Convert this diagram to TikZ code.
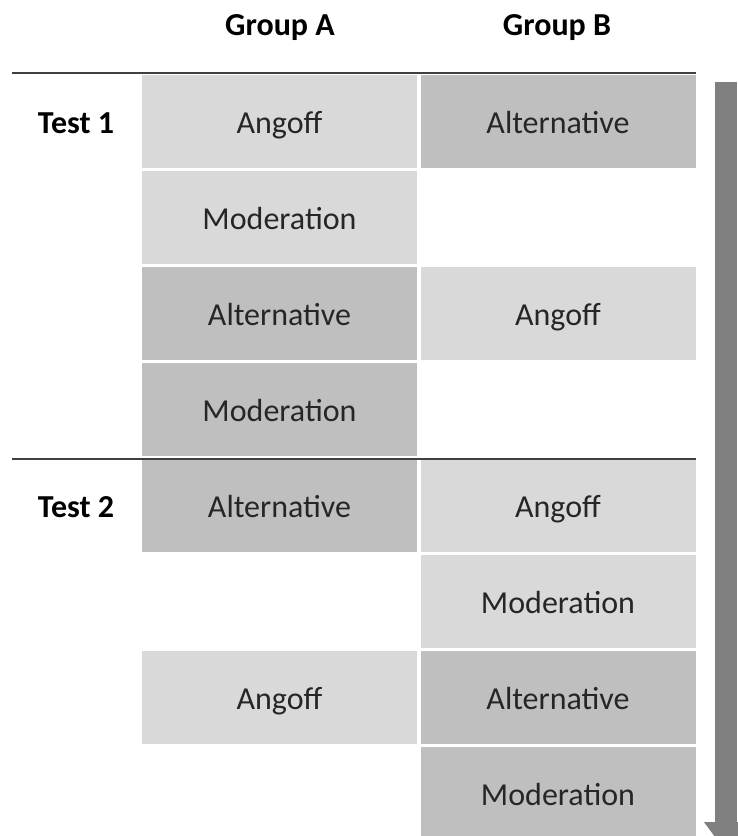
\documentclass[tikz,border=0pt]{standalone}
\usepackage{fontspec}
\setmainfont{Carlito}
\usetikzlibrary{arrows.meta}
\definecolor{cellLight}{HTML}{D9D9D9}
\definecolor{cellDark}{HTML}{BFBFBF}
\definecolor{arrowGray}{HTML}{808080}
\definecolor{textGray}{HTML}{262626}

\begin{document}
\begin{tikzpicture}[x=1pt, y=-1pt,
    cell/.style={minimum width=275pt, minimum height=93pt, inner sep=0pt,
        text height=23pt, text depth=0pt,
        text=textGray, font=\fontsize{32}{38}\selectfont},
    light/.style={cell, fill=cellLight},
    dark/.style={cell, fill=cellDark},
    head/.style={inner sep=0pt, text height=23pt, text depth=0pt,
        font=\fontsize{32}{38}\selectfont\bfseries}]
            \useasboundingbox (0,0) rectangle (738,836);
            \clip (0,0) rectangle (738,836);

            \node[head] (grpA) at (280,23.5) {Group A};
            \node[head] (grpB) at (557,23.5) {Group B};
            \node[head] (test1) at (76,121.5) {Test 1};
            \node[head] (test2) at (76,505.5) {Test 2};

            % cells, row / style / text
            \foreach \r/\s/\t in {1/light/Angoff, 2/light/Moderation,
                3/dark/Alternative, 4/dark/Moderation, 5/dark/Alternative,
                7/light/Angoff} {
                    \node[\s] (a\r) at (279.5, 25.5 + \r * 96) {\t};
                }
            \foreach \r/\s/\t in {1/dark/Alternative, 3/light/Angoff,
                5/light/Angoff, 6/light/Moderation, 7/dark/Alternative,
                8/dark/Moderation} {
                    \node[\s] (b\r) at (558, 25.5 + \r * 96) {\t};
                }

            \draw[line width=1.6pt, black!75] (12,73) -- (696,73);
            \draw[line width=1.6pt, black!75] (12,459) -- (696,459);

            \coordinate (arrTop) at (726,82);
            \coordinate (arrEnd) at (726,852);
            \draw[line width=22pt, arrowGray,
                -{Triangle[length=30pt, width=42pt]}] (arrTop) -- (arrEnd);

        \end{tikzpicture}
\end{document}
